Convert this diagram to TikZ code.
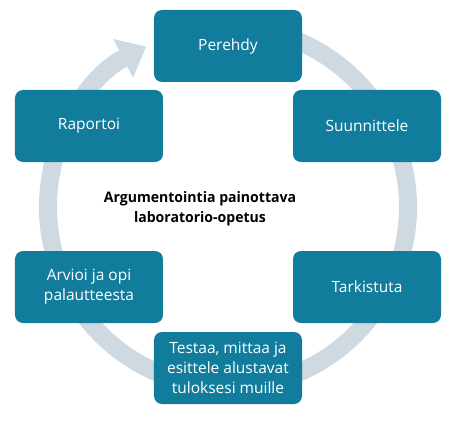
\documentclass[tikz,border=0pt]{standalone}
\usepackage{fontspec}
\setmainfont{Open Sans}
\usetikzlibrary{arrows.meta, positioning}
\definecolor{teal}{HTML}{127C9C}
\definecolor{ring}{HTML}{CFD9E1}
\tikzset{
  stage/.style={fill=teal, rounded corners=8pt, text=white,
                minimum width=148pt, minimum height=72pt,
                align=center, font=\fontsize{15.5}{20}\selectfont}
}
\begin{document}
\begin{tikzpicture}[x=1pt, y=1pt]
        \useasboundingbox (-228,-216) rectangle (232,207);
        % cycle ring
        \draw[ring, line width=18pt, -{Triangle[length=26pt, width=42pt]}]
              (90:180) arc[start angle=90, end angle=-243, radius=180];
        \node[stage] (perehdy) at (0,161) {Perehdy};
        \node[stage] (suunnittele) at (139,81) {Suunnittele};
        \node[stage] (tarkistuta) at (139,-80) {Tarkistuta};
        \node[stage] (testaa) at (0,-161) {Testaa, mittaa ja\\esittele alustavat\\tuloksesi muille};
        \node[stage] (arvioi) at (-139,-80) {Arvioi ja opi\\palautteesta};
        \node[stage] (raportoi) at (-139,81) {Raportoi};
        \node[align=center, font=\fontsize{14.5}{20}\selectfont\bfseries,
              xscale=0.97] (otsikko) at (-28,-2)
              {Argumentointia painottava\\laboratorio-opetus};
      \end{tikzpicture}
\end{document}
